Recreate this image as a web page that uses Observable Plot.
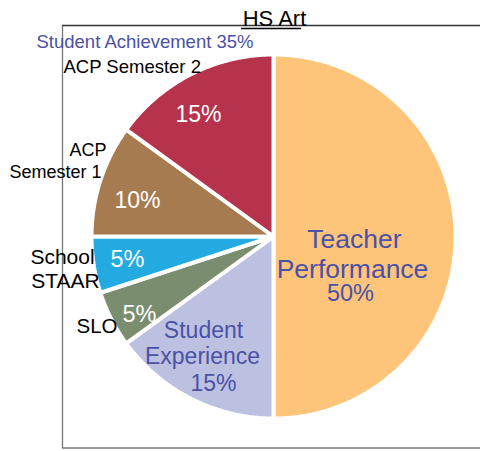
<!DOCTYPE html>
<html><head><meta charset="utf-8">
<script src="https://cdn.jsdelivr.net/npm/d3@7"></script>
<script src="https://cdn.jsdelivr.net/npm/@observablehq/plot@0.6"></script>
<style>html,body{margin:0;padding:0;background:#fff} svg{display:block}</style>
</head><body><div id="chart"></div>
<script>
// ---- data ----
const title = "HS Art";
const groupLabel = "Student Achievement 35%";
const categories = ["Teacher Performance", "Student Experience", "SLO", "School STAAR", "ACP Semester 1", "ACP Semester 2"];
const values = [50, 15, 5, 5, 10, 15];
const colors = ["#FDC47A", "#BDC1E1", "#7A8E6F", "#23AAE1", "#A67B50", "#B7324C"];

// ---- layout ----
const CX = 273, CY = 236, R = 182;
const px = v => (v - CX) / R, py = v => (CY - v) / R;
const BLUE = "#4A51A6";
const FONT = "'Liberation Sans', Arial, Helvetica, sans-serif";

const arcs = d3.pie().sort(null).startAngle(0).endAngle(2 * Math.PI)(values);
const slicePts = [];
arcs.forEach((a, i) => {
  slicePts.push({cat: categories[i], x: 0, y: 0});
  const n = Math.max(2, Math.ceil((a.endAngle - a.startAngle) / (Math.PI / 360)));
  for (let k = 0; k <= n; k++) {
    const t = a.startAngle + (a.endAngle - a.startAngle) * k / n;
    slicePts.push({cat: categories[i], x: Math.sin(t), y: Math.cos(t)});
  }
});

const pct = i => `${values[i]}%`;
const labels = [
  {text: title, x: 274, y: 25, size: 22, anchor: "middle", color: "#000"},
  {text: groupLabel, x: 36, y: 47, size: 18.5, anchor: "start", color: BLUE},
  {text: categories[5], x: 63, y: 72, size: 18.5, anchor: "start", color: "#000"},
  {text: "ACP", x: 106, y: 155, size: 18, anchor: "end", color: "#000"},
  {text: "Semester 1", x: 101, y: 177, size: 18, anchor: "end", color: "#000"},
  {text: "School", x: 62, y: 263, size: 21, anchor: "middle", color: "#000"},
  {text: "STAAR", x: 65, y: 287, size: 21, anchor: "middle", color: "#000"},
  {text: categories[2], x: 76, y: 332, size: 20.5, anchor: "start", color: "#000"},
  {text: pct(5), x: 198, y: 121, size: 23, anchor: "middle", color: "#fff"},
  {text: pct(4), x: 137, y: 207, size: 23, anchor: "middle", color: "#fff"},
  {text: pct(3), x: 127, y: 266, size: 23.5, anchor: "middle", color: "#fff"},
  {text: pct(2), x: 139, y: 321, size: 23.5, anchor: "middle", color: "#fff"},
  {text: "Student", x: 203, y: 337, size: 23, anchor: "middle", color: BLUE},
  {text: "Experience", x: 202, y: 363, size: 23, anchor: "middle", color: BLUE},
  {text: pct(1), x: 213, y: 390, size: 23, anchor: "middle", color: BLUE},
  {text: "Teacher", x: 354, y: 247, size: 26.5, anchor: "middle", color: BLUE},
  {text: "Performance", x: 352, y: 277, size: 26.5, anchor: "middle", color: BLUE},
  {text: pct(0), x: 350, y: 300, size: 23.5, anchor: "middle", color: BLUE}
];

const chart = Plot.plot({
  width: 480, height: 451, margin: 0,
  x: {domain: [-1, 1], range: [CX - R, CX + R], axis: null},
  y: {domain: [-1, 1], range: [CY + R, CY - R], axis: null},
  color: {domain: categories, range: colors},
  style: {fontFamily: FONT, background: "#fff"},
  marks: [
    Plot.ruleX([px(62)], {y1: py(25), y2: py(448), stroke: "#777", strokeWidth: 1.3}),
    Plot.ruleY([py(25)], {x1: px(62), x2: px(482), stroke: "#333", strokeWidth: 1.5}),
    Plot.ruleY([py(447.5)], {x1: px(62), x2: px(482), stroke: "#777", strokeWidth: 1.5}),
    Plot.line(slicePts, {x: "x", y: "y", z: "cat", fill: "cat", stroke: "#fff", strokeWidth: 4, curve: "linear-closed", strokeLinejoin: "miter"}),
    ...labels.map(l => Plot.text([l], {
      x: d => px(d.x), y: d => py(d.y), text: "text",
      fontSize: l.size, fill: l.color, textAnchor: l.anchor, lineAnchor: "bottom", fontFamily: FONT
    })),
    Plot.ruleY([py(28)], {x1: px(241), x2: px(301), stroke: "#000", strokeWidth: 1.5})
  ]
});
document.getElementById("chart").appendChild(chart);
</script>
</body></html>
